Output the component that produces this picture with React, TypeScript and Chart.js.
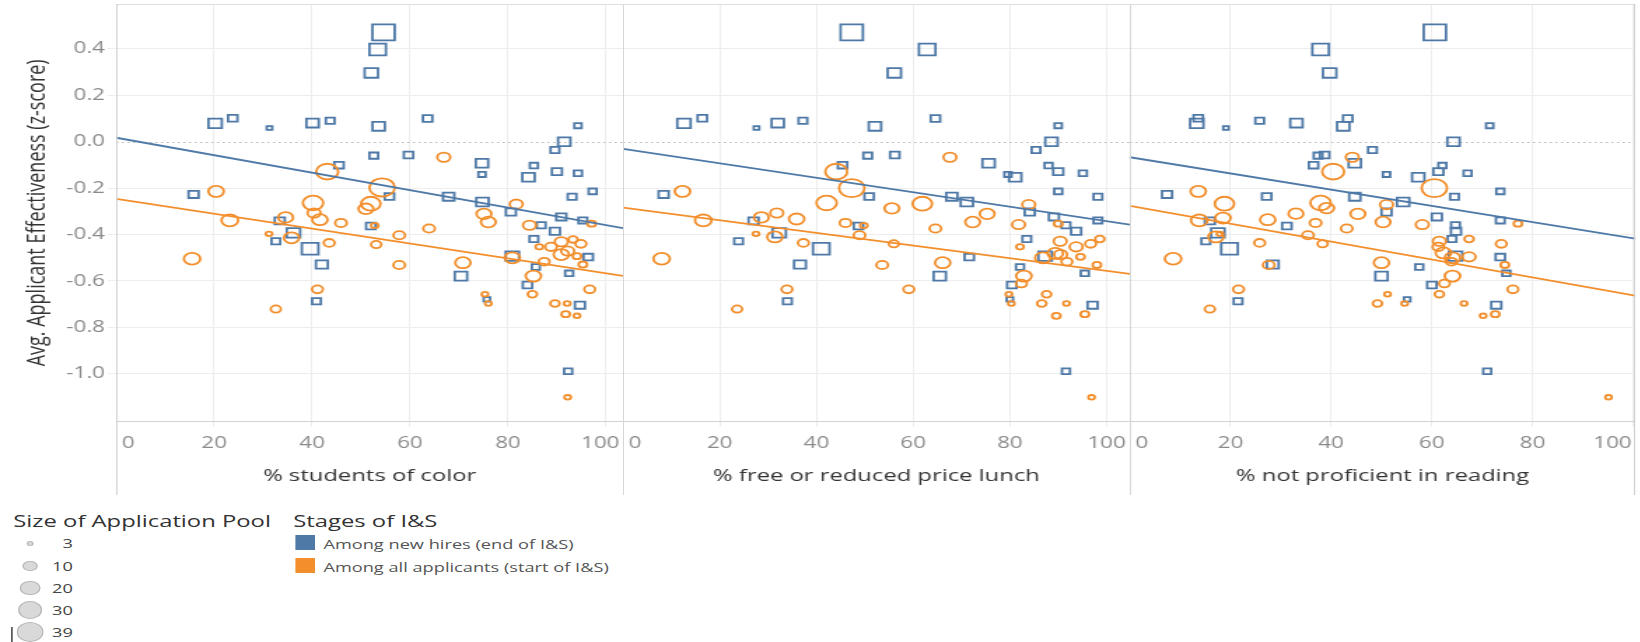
import React, { useEffect, useRef } from "react";
import { Chart, registerables } from "chart.js";

Chart.register(...registerables);

// ---------------- data ----------------
const panelTitles = ["% students of color", "% free or reduced price lunch", "% not proficient in reading"];
const xMaxByPanel = [103.5, 104.8, 100.4];
const xTickValues = [0, 20, 40, 60, 80, 100];
const yTickValues = [0.4, 0.2, 0.0, -0.2, -0.4, -0.6, -0.8, -1.0];
const yMin = -1.206;
const yMax = 0.593;

// Among new hires (end of I&S) — same schools in every panel
const hireY = [0.471, 0.397, 0.296, 0.079, 0.101, 0.059, 0.08, 0.09, 0.066, 0.1, 0.069, 0.0, -0.036, -0.06, -0.057, -0.101, -0.093, -0.141, -0.103, -0.153, -0.129, -0.136, -0.214, -0.227, -0.236, -0.237, -0.237, -0.26, -0.303, -0.324, -0.339, -0.341, -0.393, -0.429, -0.363, -0.36, -0.386, -0.419, -0.461, -0.529, -0.493, -0.497, -0.54, -0.579, -0.567, -0.617, -0.679, -0.687, -0.704, -0.989];
const hireSize = [39, 23, 16, 16, 9, 4, 14, 8, 14, 9, 6, 14, 8, 8, 9, 9, 14, 6, 7, 14, 10, 7, 7, 10, 9, 12, 8, 14, 10, 10, 8, 10, 16, 8, 9, 8, 10, 8, 23, 13, 16, 9, 7, 14, 7, 9, 5, 8, 10, 7];
const hireXColor = [54.6, 53.4, 52.1, 20.2, 23.8, 31.3, 40.1, 43.7, 53.6, 63.6, 94.3, 91.5, 89.6, 52.6, 59.7, 45.5, 74.7, 74.7, 85.3, 84.2, 90.0, 94.3, 97.3, 15.8, 55.8, 67.9, 93.1, 74.8, 80.6, 90.9, 95.3, 33.4, 36.2, 32.6, 52.0, 86.8, 89.6, 85.3, 39.6, 42.0, 80.9, 96.4, 85.7, 70.4, 92.5, 84.0, 75.7, 40.9, 94.7, 92.3];
const hireXLunch = [47.3, 62.9, 56.1, 12.6, 16.4, 27.6, 32.0, 37.2, 52.1, 64.6, 90.0, 88.6, 85.4, 50.6, 56.2, 45.4, 75.6, 79.6, 88.0, 81.1, 90.0, 95.1, 90.0, 8.4, 50.9, 68.0, 98.2, 71.1, 84.1, 89.1, 98.2, 27.0, 32.3, 23.9, 48.7, 91.6, 93.7, 83.5, 41.0, 36.6, 87.3, 71.6, 82.1, 65.5, 95.5, 80.4, 80.0, 34.0, 97.1, 91.6];
const hireXReading = [60.6, 37.9, 39.7, 13.3, 13.6, 19.1, 33.1, 25.8, 42.4, 43.3, 71.5, 64.3, 48.2, 37.4, 38.7, 36.5, 44.7, 51.0, 62.1, 57.3, 61.3, 67.1, 73.6, 7.4, 27.2, 44.7, 64.5, 54.3, 51.0, 61.0, 73.6, 15.9, 17.5, 15.1, 31.2, 64.7, 64.8, 64.0, 19.8, 28.4, 64.7, 73.6, 57.5, 50.0, 74.8, 60.0, 55.1, 21.5, 72.8, 71.0];

// Among all applicants (start of I&S)
const applXColor = [66.9, 43.1, 54.3, 20.4, 40.2, 52.0, 51.0, 81.7, 23.2, 34.6, 40.4, 41.6, 45.9, 63.9, 75.1, 76.0, 84.4, 97.1, 31.2, 35.8, 52.8, 57.8, 43.5, 53.1, 15.5, 57.8, 70.8, 80.9, 86.4, 88.8, 90.9, 93.3, 94.9, 90.9, 92.2, 94.1, 95.3, 87.4, 85.2, 96.7, 41.1, 75.3, 85.0, 76.0, 32.6, 89.6, 92.1, 91.8, 94.1, 92.2];
const applYColor = [-0.067, -0.129, -0.197, -0.214, -0.264, -0.267, -0.289, -0.269, -0.339, -0.326, -0.307, -0.336, -0.35, -0.374, -0.311, -0.346, -0.36, -0.353, -0.397, -0.414, -0.361, -0.403, -0.436, -0.443, -0.504, -0.531, -0.521, -0.5, -0.453, -0.453, -0.431, -0.421, -0.44, -0.486, -0.471, -0.493, -0.529, -0.517, -0.579, -0.636, -0.636, -0.657, -0.657, -0.697, -0.721, -0.697, -0.697, -0.743, -0.75, -1.101];
const applSizeColor = [12, 30, 39, 16, 26, 24, 15, 12, 18, 15, 12, 16, 10, 10, 15, 15, 12, 6, 4, 16, 5, 10, 9, 8, 18, 10, 16, 16, 5, 10, 12, 7, 9, 16, 12, 6, 6, 9, 16, 9, 9, 4, 7, 4, 8, 7, 4, 6, 4, 4];

const applXLunch = [67.6, 44.1, 47.3, 12.3, 42.1, 61.9, 55.6, 83.9, 16.6, 28.6, 31.8, 35.9, 46.0, 64.6, 75.3, 72.3, 81.8, 27.5, 31.4, 49.8, 48.9, 37.3, 56.0, 8.0, 53.6, 66.1, 86.8, 90.4, 93.7, 96.7, 98.6, 89.4, 90.5, 94.6, 91.8, 98.0, 82.1, 82.9, 82.4, 90.0, 33.9, 59.1, 87.6, 79.8, 80.3, 23.6, 86.6, 91.7, 89.6, 95.5, 96.9];
const applYLunch = [-0.067, -0.129, -0.2, -0.214, -0.264, -0.267, -0.287, -0.271, -0.339, -0.326, -0.307, -0.333, -0.35, -0.374, -0.311, -0.346, -0.357, -0.397, -0.41, -0.361, -0.403, -0.436, -0.44, -0.504, -0.531, -0.521, -0.5, -0.429, -0.453, -0.44, -0.419, -0.481, -0.486, -0.496, -0.517, -0.531, -0.453, -0.579, -0.611, -0.353, -0.636, -0.636, -0.657, -0.657, -0.697, -0.721, -0.697, -0.697, -0.75, -0.743, -1.101];
const applSizeLunch = [12, 30, 39, 16, 26, 24, 15, 12, 18, 15, 12, 16, 10, 10, 15, 15, 12, 4, 16, 5, 10, 9, 8, 18, 10, 16, 16, 12, 12, 9, 7, 16, 12, 6, 9, 6, 5, 16, 9, 6, 9, 9, 7, 4, 4, 8, 7, 4, 6, 6, 4];

const applXReading = [44.2, 40.4, 60.5, 13.6, 37.9, 18.8, 39.1, 51.0, 13.8, 33.0, 45.3, 18.5, 27.4, 36.9, 43.1, 50.3, 58.1, 77.1, 17.9, 35.4, 25.8, 38.3, 17.1, 8.6, 50.0, 27.6, 64.1, 61.5, 61.3, 62.3, 67.4, 73.8, 67.4, 63.9, 74.5, 64.1, 62.5, 76.1, 21.6, 51.2, 61.5, 49.2, 54.6, 66.4, 15.9, 72.6, 70.2, 95.1];
const applYReading = [-0.067, -0.129, -0.2, -0.214, -0.264, -0.267, -0.286, -0.271, -0.339, -0.31, -0.311, -0.329, -0.336, -0.35, -0.374, -0.346, -0.357, -0.353, -0.397, -0.403, -0.436, -0.44, -0.41, -0.504, -0.521, -0.531, -0.5, -0.429, -0.453, -0.479, -0.419, -0.44, -0.496, -0.517, -0.531, -0.579, -0.611, -0.636, -0.636, -0.657, -0.657, -0.697, -0.697, -0.697, -0.721, -0.743, -0.75, -1.101];
const applSizeReading = [12, 30, 39, 16, 26, 24, 15, 12, 18, 15, 15, 16, 16, 10, 10, 15, 12, 6, 4, 10, 9, 8, 16, 18, 16, 10, 16, 12, 10, 16, 7, 9, 12, 9, 6, 16, 9, 9, 9, 4, 7, 7, 4, 4, 8, 6, 4, 4];

// Trend lines: value at x = 0 and at x = 100
const hireTrendAt0 = [0.017, -0.031, -0.067];
const hireTrendAt100 = [-0.359, -0.342, -0.416];
const applTrendAt0 = [-0.246, -0.284, -0.276];
const applTrendAt100 = [-0.567, -0.556, -0.662];

const sizeLegendValues = [3, 10, 20, 30, 39];
const stageLabels = ["Among new hires (end of I&S)", "Among all applicants (start of I&S)"];

// ---------------- style / layout ----------------
const S = 1.4; // the reference picture is stretched horizontally
const BLUE = "#4e79a7";
const ORANGE = "#f28e2b";
const FONT = '"Open Sans", "DejaVu Sans", sans-serif';
const CANVAS_H = 500;
const PLOT_TOP = 4;
const PLOT_BOTTOM = 421.7;
const Y_AXIS_W = 83;
const TICK_Y = 443.3;
const panelCanvas = [
  { left: 0, width: 445 },
  { left: 445, width: 362 },
  { left: 807, width: 361 },
];

const circleRadius = (n: number) => Math.max(1.5, 1.6 * Math.sqrt(n) - 0.9);
const squareRadius = (n: number) => Math.max(1.5, 2.005 * Math.sqrt(n) - 1.27);

const hireXByPanel = [hireXColor, hireXLunch, hireXReading];
const applXByPanel = [applXColor, applXLunch, applXReading];
const applYByPanel = [applYColor, applYLunch, applYReading];
const applSizeByPanel = [applSizeColor, applSizeLunch, applSizeReading];

function decorPlugin(p: number) {
  return {
    id: "decor" + p,
    beforeDatasetsDraw(chart: any) {
      const { ctx, chartArea, scales } = chart;
      const py = Math.round(scales.y.getPixelForValue(0)) + 0.5;
      ctx.save();
      ctx.strokeStyle = "#b8b8b8";
      ctx.lineWidth = 1;
      ctx.setLineDash([1.5, 2.5]);
      ctx.beginPath();
      ctx.moveTo(chartArea.left, py);
      ctx.lineTo(chartArea.right, py);
      ctx.stroke();
      ctx.restore();
    },
    afterDraw(chart: any) {
      const { ctx, chartArea, scales } = chart;
      ctx.save();
      ctx.font = `16px ${FONT}`;
      ctx.fillStyle = "#8a8a8a";
      ctx.textBaseline = "middle";
      ctx.textAlign = "left";
      for (const v of xTickValues) {
        const px = scales.x.getPixelForValue(v);
        const label = String(v);
        const w = ctx.measureText(label).width;
        let left = px - w / 2;
        left = Math.max(left, chartArea.left + 4);
        left = Math.min(left, chartArea.right - 2.5 - w);
        ctx.fillText(label, left, TICK_Y);
      }
      ctx.restore();
    },
  };
}

function buildConfig(p: number): any {
  const xMax = xMaxByPanel[p];
  const lineAt = (a0: number, a100: number, x: number) => a0 + ((a100 - a0) * x) / 100;
  const hx = hireXByPanel[p];
  const ax = applXByPanel[p];
  const ay = applYByPanel[p];
  const as = applSizeByPanel[p];
  const gridColor = (c: any) => (c.tick && Math.abs(c.tick.value) < 1e-9 ? "rgba(0,0,0,0)" : "#ededed");
  return {
    type: "scatter",
    data: {
      datasets: [
        {
          label: "hire trend",
          data: [
            { x: 0, y: hireTrendAt0[p] },
            { x: xMax, y: lineAt(hireTrendAt0[p], hireTrendAt100[p], xMax) },
          ],
          showLine: true,
          borderColor: BLUE,
          borderWidth: 1.8,
          pointRadius: 0,
          order: 0,
        },
        {
          label: "applicant trend",
          data: [
            { x: 0, y: applTrendAt0[p] },
            { x: xMax, y: lineAt(applTrendAt0[p], applTrendAt100[p], xMax) },
          ],
          showLine: true,
          borderColor: ORANGE,
          borderWidth: 1.8,
          pointRadius: 0,
          order: 1,
        },
        {
          label: stageLabels[1],
          data: ax.map((x, k) => ({ x, y: ay[k] })),
          pointStyle: "circle",
          pointRadius: (c: any) => circleRadius(as[c.dataIndex]),
          pointHoverRadius: (c: any) => circleRadius(as[c.dataIndex]),
          pointBorderColor: ORANGE,
          pointBackgroundColor: "rgba(0,0,0,0)",
          pointBorderWidth: 1.8,
          order: 2,
        },
        {
          label: stageLabels[0],
          data: hx.map((x, k) => ({ x, y: hireY[k] })),
          pointStyle: "rect",
          pointRadius: (c: any) => squareRadius(hireSize[c.dataIndex]),
          pointHoverRadius: (c: any) => squareRadius(hireSize[c.dataIndex]),
          pointBorderColor: BLUE,
          pointBackgroundColor: "rgba(0,0,0,0)",
          pointBorderWidth: 1.8,
          order: 3,
        },
      ],
    },
    options: {
      animation: false,
      responsive: false,
      events: [],
      layout: { autoPadding: false, padding: { top: PLOT_TOP, left: 0, right: 0, bottom: 0 } },
      plugins: { legend: { display: false }, tooltip: { enabled: false } },
      scales: {
        x: {
          type: "linear",
          min: 0,
          max: xMax,
          afterBuildTicks: (s: any) => {
            s.ticks = xTickValues.map((v) => ({ value: v }));
          },
          afterFit: (s: any) => {
            s.height = CANVAS_H - PLOT_BOTTOM;
            s.paddingLeft = 0;
            s.paddingRight = 0;
          },
          grid: { color: gridColor, lineWidth: 1, drawTicks: true, tickLength: 5 },
          border: { display: false },
          ticks: { display: false },
          title: {
            display: true,
            text: panelTitles[p],
            color: "#333333",
            font: { family: FONT, size: 17 },
            padding: { top: 0, bottom: 13.8 },
          },
        },
        y: {
          type: "linear",
          min: yMin,
          max: yMax,
          afterBuildTicks: (s: any) => {
            s.ticks = yTickValues.map((v) => ({ value: v }));
          },
          afterFit: (s: any) => {
            s.width = p === 0 ? Y_AXIS_W : 0;
            s.paddingTop = 0;
            s.paddingBottom = 0;
          },
          grid: { color: gridColor, lineWidth: 1, drawTicks: p === 0, tickLength: 6 },
          border: { display: false },
          ticks: {
            display: p === 0,
            color: "#8a8a8a",
            font: { family: FONT, size: 16 },
            padding: 2,
            callback: (v: any) => Number(v).toFixed(1),
          },
          title: {
            display: p === 0,
            text: "Avg. Applicant Effectiveness (z-score)",
            color: "#333333",
            font: { family: FONT, size: 18 },
            padding: { top: 16.2, bottom: 0 },
          },
        },
      },
    },
    plugins: [decorPlugin(p)],
  };
}

function Panel({ p }: { p: number }) {
  const ref = useRef<HTMLCanvasElement | null>(null);
  useEffect(() => {
    if (!ref.current) return;
    const chart = new Chart(ref.current, buildConfig(p));
    return () => chart.destroy();
  }, [p]);
  const { left, width } = panelCanvas[p];
  return (
    <canvas
      ref={ref}
      width={width}
      height={CANVAS_H}
      style={{ position: "absolute", left, top: 0, width, height: CANVAS_H }}
    />
  );
}

const lineStyle = (left: number, top: number, width: number, height: number, color: string): React.CSSProperties => ({
  position: "absolute",
  left,
  top,
  width,
  height,
  background: color,
});

export default function App() {
  useEffect(() => {
    document.body.style.overflow = "hidden";
  }, []);
  const paneLefts = [Y_AXIS_W, panelCanvas[1].left, panelCanvas[2].left];
  const right = panelCanvas[2].left + panelCanvas[2].width;
  const legendRows = [543.3, 565.7, 587.7, 610, 631.7];
  return (
    <div
      style={{
        position: "absolute",
        left: 0,
        top: 0,
        width: 1640 / S,
        height: 642,
        transform: `scaleX(${S})`,
        transformOrigin: "0 0",
        overflow: "hidden",
        fontFamily: FONT,
        background: "#ffffff",
      }}
    >
      {[0, 1, 2].map((p) => (
        <Panel key={p} p={p} />
      ))}
      {/* pane frame */}
      <div style={lineStyle(Y_AXIS_W, PLOT_TOP, right - Y_AXIS_W, 1, "#dedede")} />
      <div style={lineStyle(Y_AXIS_W, 421, right - Y_AXIS_W, 1.3, "#d2d2d2")} />
      {paneLefts.map((x, i) => (
        <div key={i} style={lineStyle(x, PLOT_TOP, 1, 491, "#d6d6d6")} />
      ))}
      <div style={lineStyle(right - 1, PLOT_TOP, 1, 491, "#d0d0d0")} />

      {/* size legend */}
      <div style={{ position: "absolute", left: 9.5, top: 509, lineHeight: "24px", fontSize: 17, color: "#333", whiteSpace: "nowrap" }}>
        Size of Application Pool
      </div>
      {sizeLegendValues.map((n, i) => {
        const d = 3.2 * Math.sqrt(n);
        return (
          <React.Fragment key={n}>
            <div
              style={{
                position: "absolute",
                left: 21.5 - d / 2,
                top: legendRows[i] - d / 2,
                width: d,
                height: d,
                borderRadius: "50%",
                background: "#d9d9d9",
                border: "1.2px solid #b9b9b9",
                boxSizing: "border-box",
              }}
            />
            <div
              style={{
                position: "absolute",
                left: 32,
                width: 20,
                top: legendRows[i] - 9,
                lineHeight: "18px",
                fontSize: 13,
                color: "#444",
                textAlign: "right",
              }}
            >
              {n}
            </div>
          </React.Fragment>
        );
      })}
      <div style={lineStyle(7.5, 627, 1, 15, "#333")} />

      {/* colour legend */}
      <div style={{ position: "absolute", left: 209.5, top: 509, lineHeight: "24px", fontSize: 17, color: "#333", whiteSpace: "nowrap" }}>
        Stages of I&amp;S
      </div>
      {stageLabels.map((label, i) => (
        <React.Fragment key={label}>
          <div style={lineStyle(210.7, [535.3, 557.8][i], 14.3, 15, i === 0 ? BLUE : ORANGE)} />
          <div
            style={{
              position: "absolute",
              left: 231,
              top: [544.3, 566.7][i] - 9,
              lineHeight: "18px",
              fontSize: 13,
              color: "#555",
              whiteSpace: "nowrap",
            }}
          >
            {label}
          </div>
        </React.Fragment>
      ))}
    </div>
  );
}
